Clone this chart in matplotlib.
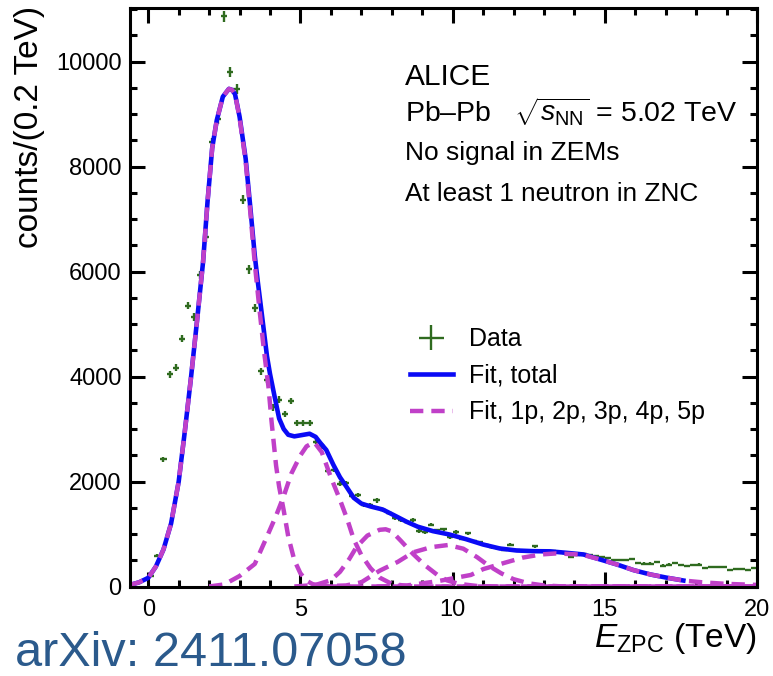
import numpy as np
import matplotlib
matplotlib.use("Agg")
import matplotlib.pyplot as plt
from matplotlib.ticker import MultipleLocator

plt.rcParams['font.family'] = ['Liberation Sans', 'DejaVu Sans']
plt.rcParams['mathtext.fontset'] = 'custom'
plt.rcParams['mathtext.rm'] = 'Liberation Sans'
plt.rcParams['mathtext.it'] = 'Liberation Sans:italic'
plt.rcParams['mathtext.bf'] = 'Liberation Sans:bold'

# ---------------- data ----------------
bin_width = 0.2
counts = [200, 590, 2420, 4040, 4170, 4720, 5350, 5130, 5940, 6650,
          8460, 8900, 10860, 9800, 9470, 7370, 6040, 5300, 4100, 3930,
          3410, 3560, 3280, 3530, 3110, 3110, 3110, 2760, 2680, 2200,
          2220, 1960, 1970, 1730, 1740, 1560, 1550, 1640, 1460, 1400,
          1310, 1270, 1235, 1263, 1060, 1040, 1180, 1067, 1086, 945,
          1035, 914, 1010, 863, 845, 800, 745, 730, 700, 800,
          690, 680, 670, 768, 670, 660, 670, 650, 630, 570,
          600, 610, 600, 580, 565, 540, 500, 500, 500, 527,
          451, 438, 438, 463, 400, 419, 451, 406, 387, 406,
          419, 343, 362, 362, 362, 311, 330, 330, 311, 356]
bin_centers = bin_width * (np.arange(len(counts)) + 0.5)

fit_total_x = [-0.6, -0.3, 0.0, 0.25, 0.5, 0.75, 1.0, 1.2, 1.4, 1.6, 1.8, 1.95, 2.1, 2.25,
               2.45, 2.65, 2.75, 2.85, 3.0, 3.2, 3.35, 3.5, 3.6, 3.75, 3.9, 4.0, 4.15, 4.3,
               4.45, 4.6, 4.8, 5.0, 5.3, 5.5, 5.65, 5.85, 6.08, 6.3, 6.5, 6.75, 7.0, 7.3,
               7.7, 8.1, 8.5, 8.85, 9.35, 9.9, 10.45, 11.0, 11.55, 12.1, 12.65, 13.2,
               13.75, 14.3, 14.85, 15.4, 15.95, 16.5, 17.05, 17.58]
fit_total_y = [30, 80, 165, 380, 705, 1200, 2000, 2950, 3960, 5050, 6180, 7350, 8350, 8880,
               9330, 9480, 9460, 9380, 8950, 8150, 7240, 6300, 5800, 5100, 4390, 4050, 3620, 3200,
               3000, 2890, 2860, 2880, 2910, 2850, 2737, 2600, 2320, 2080, 1910, 1690, 1580, 1525,
               1467, 1350, 1230, 1140, 1055, 990, 900, 800, 724, 686, 673, 670,
               641, 610, 514, 419, 311, 229, 166, 114]

fit_1p_x = [-0.6, -0.3, 0.0, 0.25, 0.5, 0.75, 1.0, 1.2, 1.4, 1.6, 1.8, 1.95, 2.1, 2.25, 2.45,
            2.65, 2.75, 2.85, 3.0, 3.2, 3.35, 3.5, 3.65, 3.8, 3.95, 4.05, 4.2, 4.3, 4.45, 4.6,
            4.8, 5.0, 5.2, 5.4, 5.7, 6.0, 20.0]
fit_1p_y = [30, 80, 165, 380, 705, 1200, 2000, 2950, 3960, 5050, 6180, 7350, 8350, 8880, 9330,
            9480, 9460, 9380, 8930, 8100, 7150, 6150, 5300, 4500, 3800, 3150, 2300, 1900, 1450, 950,
            500, 250, 110, 45, 12, 0, 0]

fit_2p_x = [2.0, 2.5, 3.0, 3.5, 3.9, 4.2, 4.45, 4.7, 5.0, 5.2, 5.45, 5.7, 6.0, 6.3, 6.55,
            6.75, 7.0, 7.3, 7.6, 8.0, 8.5, 9.0, 20.0]
fit_2p_y = [0, 40, 200, 430, 950, 1350, 1720, 2150, 2500, 2670, 2750, 2560, 2080, 1650, 1260,
            900, 600, 350, 170, 50, 10, 0, 0]

fit_3p_x = [4.8, 5.5, 6.0, 6.3, 6.6, 6.85, 7.2, 7.6, 7.8, 8.0, 8.3, 8.7, 9.1, 9.5, 9.8,
            10.2, 10.8, 11.5, 20.0]
fit_3p_y = [0, 30, 120, 280, 520, 760, 970, 1080, 1090, 1050, 870, 620, 400, 220, 120,
            50, 10, 0, 0]

fit_4p_x = [5.5, 6.5, 7.0, 7.6, 8.2, 8.7, 9.3, 9.85, 10.35, 10.8, 11.2, 11.6, 12.0, 12.5,
            13.0, 13.5, 20.0]
fit_4p_y = [0, 20, 80, 300, 470, 650, 750, 790, 720, 560, 390, 250, 140, 60,
            20, 5, 0]

fit_5p_x = [7.5, 8.5, 9.5, 10.6, 11.0, 11.7, 12.3, 12.9, 13.4, 14.0, 14.3, 14.85, 15.4,
            15.95, 16.5, 17.05, 17.58, 18.2, 19.0, 20.0]
fit_5p_y = [0, 20, 100, 220, 330, 450, 550, 610, 630, 615, 600, 514, 419,
            311, 229, 166, 114, 80, 50, 30]

components = [(fit_1p_x, fit_1p_y), (fit_2p_x, fit_2p_y), (fit_3p_x, fit_3p_y),
              (fit_4p_x, fit_4p_y), (fit_5p_x, fit_5p_y)]

info_lines = ["ALICE", r"Pb–Pb   $\sqrt{s_{\mathrm{NN}}}$ = 5.02 TeV",
              "No signal in ZEMs", "At least 1 neutron in ZNC"]
legend_labels = ["Data", "Fit, total", "Fit, 1p, 2p, 3p, 4p, 5p"]

# ---------------- figure ----------------
W, H = 773, 676
fig = plt.figure(figsize=(W / 100, H / 100), dpi=100)
ax_l, ax_r, ax_t, ax_b = 130, 757, 8, 586.5
ax = fig.add_axes([ax_l / W, 1 - ax_b / H, (ax_r - ax_l) / W, (ax_b - ax_t) / H])

green = "#2f6b1f"
blue = "#0a0af5"
magenta = "#c040c8"

counts_arr = np.array(counts, dtype=float)
eb = ax.errorbar(bin_centers, counts_arr, xerr=bin_width / 2, yerr=np.sqrt(counts_arr),
                 fmt='none', ecolor=green, elinewidth=1.7, capsize=0, zorder=1)
ln_tot, = ax.plot(fit_total_x, fit_total_y, color=blue, lw=3.3, zorder=2,
                  solid_joinstyle='round')
ln_comp = None
for cx, cy in components:
    l, = ax.plot(cx, cy, color=magenta, lw=3.2, ls=(0, (3.0, 1.8)), zorder=2.2)
    if ln_comp is None:
        ln_comp = l

ax.set_xlim(-0.6, 20)
ax.set_ylim(0, 11020)
ax.xaxis.set_major_locator(MultipleLocator(5))
ax.xaxis.set_minor_locator(MultipleLocator(1))
ax.yaxis.set_major_locator(MultipleLocator(2000))
ax.yaxis.set_minor_locator(MultipleLocator(500))
ax.tick_params(which='both', direction='in', top=True, right=True, width=2.2, color='black')
ax.tick_params(which='major', length=11, labelsize=17)
ax.tick_params(which='minor', length=5)
ax.tick_params(axis='x', which='major', pad=9)
ax.tick_params(axis='y', which='major', pad=6)
for s in ax.spines.values():
    s.set_linewidth(2.2)

leg = ax.legend([eb, ln_tot, ln_comp], legend_labels, loc='center left',
                bbox_to_anchor=((410 - ax_l) / (ax_r - ax_l), (ax_b - 376) / (ax_b - ax_t)),
                frameon=False, fontsize=18, handlelength=1.7, handletextpad=0.65,
                labelspacing=0.5, borderpad=0, borderaxespad=0)

# info text
baselines = [85, 121, 160, 201]
sizes = [21.5, 20.5, 19, 18.8]
for txt, yb, fs in zip(info_lines, baselines, sizes):
    fig.text(405 / W, 1 - yb / H, txt, fontsize=fs, ha='left', va='baseline')

# axis titles
fig.text(757 / W, 1 - 647 / H, r"$E_{\mathrm{ZPC}}$ (TeV)", fontsize=24, ha='right', va='baseline')
fig.text(30 / W, 1 - 6 / H, "counts/(0.2 TeV)", fontsize=24, rotation=90, ha='center', va='top')

fig.text(15 / W, 1 - 666 / H, "arXiv: 2411.07058", fontsize=35, color="#2b5a8c",
         ha='left', va='baseline')

fig.savefig("out.png", dpi=100)
